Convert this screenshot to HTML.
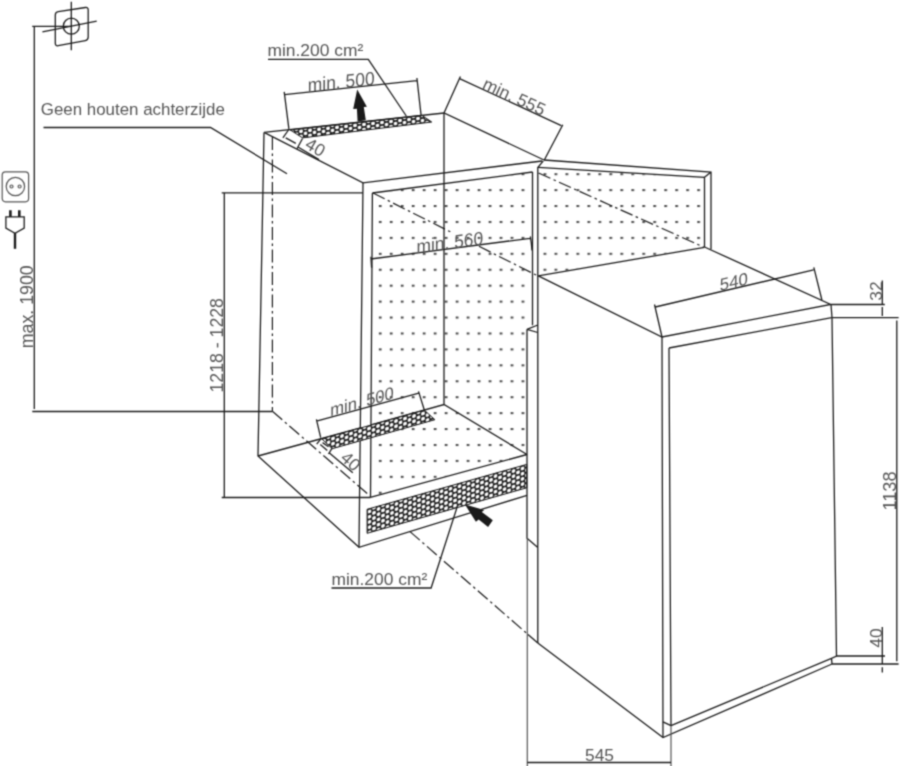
<!DOCTYPE html>
<html><head><meta charset="utf-8">
<style>
html,body{margin:0;padding:0;background:#fff;}
body{width:900px;height:766px;overflow:hidden;}
svg{display:block;filter:url(#bl);}
text{font-family:"Liberation Sans",sans-serif;font-size:17.4px;fill:#565656;}
.l{stroke:#1c1c1c;stroke-width:1.3;fill:none;stroke-linecap:butt;}
.g{stroke:#555;stroke-width:1.2;fill:none;}
.dd{stroke:#1c1c1c;stroke-width:1.2;fill:none;stroke-dasharray:13 3.5 2.5 3.5;}
</style></head><body>
<svg width="900" height="766" viewBox="0 0 900 766">
<defs><filter id="bl" x="0" y="0" width="900" height="766" filterUnits="userSpaceOnUse" color-interpolation-filters="sRGB"><feConvolveMatrix order="3" kernelMatrix="0.0400 0.1200 0.0400 0.1200 0.3600 0.1200 0.0400 0.1200 0.0400" divisor="1" edgeMode="duplicate" preserveAlpha="true"/></filter>
<pattern id="dots" patternUnits="userSpaceOnUse" x="378.85" y="173.15" width="10.98" height="15.93">
<rect x="0" y="0" width="2.7" height="2.1" fill="#4a4a4a"/>
</pattern>
<pattern id="hexA" patternUnits="userSpaceOnUse" width="9" height="5.2" patternTransform="translate(292,132.2) skewY(-6.2)">
<rect width="9" height="5.2" fill="#111"/>
<circle cx="0" cy="0" r="1.95" fill="#fff"/><circle cx="9" cy="0" r="1.95" fill="#fff"/>
<circle cx="0" cy="5.2" r="1.95" fill="#fff"/><circle cx="9" cy="5.2" r="1.95" fill="#fff"/>
<circle cx="4.5" cy="2.6" r="1.95" fill="#fff"/>
</pattern>
<pattern id="hexB" patternUnits="userSpaceOnUse" width="9" height="5.2" patternTransform="translate(324,441) skewY(-15.5)">
<rect width="9" height="5.2" fill="#111"/>
<circle cx="0" cy="0" r="1.95" fill="#fff"/><circle cx="9" cy="0" r="1.95" fill="#fff"/>
<circle cx="0" cy="5.2" r="1.95" fill="#fff"/><circle cx="9" cy="5.2" r="1.95" fill="#fff"/>
<circle cx="4.5" cy="2.6" r="1.95" fill="#fff"/>
</pattern>
<pattern id="hexC" patternUnits="userSpaceOnUse" width="9" height="5.2" patternTransform="translate(369.5,511.5) skewY(-15.7)">
<rect width="9" height="5.2" fill="#111"/>
<circle cx="0" cy="0" r="1.95" fill="#fff"/><circle cx="9" cy="0" r="1.95" fill="#fff"/>
<circle cx="0" cy="5.2" r="1.95" fill="#fff"/><circle cx="9" cy="5.2" r="1.95" fill="#fff"/>
<circle cx="4.5" cy="2.6" r="1.95" fill="#fff"/>
</pattern>
</defs>
<rect width="900" height="766" fill="#fff"/>

<!-- dotted areas -->
<polygon points="373,193 532.5,172.5 532.5,325 527,329 527,454.5 371,497" fill="url(#dots)"/>
<polygon points="538.5,168 704,178 704,247 538.5,275.5" fill="url(#dots)"/>

<!-- LEFT: max 1900 line + symbol -->
<g id="sym">
<path class="l" d="M32.2 26.4H71 M34.3 26.4V409 M32.3 411.5H272.4"/>
<path class="l" d="M58.3 11.6 L85.4 7.5 Q88.2 7.1 88.2 10 L88.2 37 Q88.2 40 85.3 40.6 L58.2 45.7 Q55.3 46.2 55.3 43.3 L55.3 15 Q55.3 12 58.3 11.6Z"/>
<circle class="l" cx="71.3" cy="26.2" r="8"/>
<path class="l" d="M71.3 1.8V50.2 M42.4 31.8L96.7 21.1"/>
</g>
<text transform="translate(33.3,306.8) rotate(-90)" text-anchor="middle" style="font-size:17.8px">max. 1900</text>

<!-- socket + plug -->
<g id="socket">
<rect class="g" x="2.2" y="171.8" width="26.4" height="30" rx="3.2" ry="3.2" stroke-width="1.5"/>
<circle class="g" cx="15.4" cy="186.5" r="9.2" stroke-width="1.5"/>
<circle class="g" cx="11.5" cy="186.5" r="1.5" stroke-width="1"/>
<circle class="g" cx="19.6" cy="186.5" r="1.5" stroke-width="1"/>
<path d="M10.4 210.3V217 M19.3 210.3V217" stroke="#1c1c1c" stroke-width="2.6" fill="none"/>
<path d="M5.9 216.8H24.2V228L15 233.2L5.9 228Z" class="l" stroke-width="1.4"/>
<path d="M15 233V248.8" stroke="#1c1c1c" stroke-width="2.4" fill="none"/>
</g>

<!-- Geen houten achterzijde -->
<text x="40.8" y="114.7" style="font-size:16.9px">Geen houten achterzijde</text>
<path class="l" d="M43.5 127.5H210.5L287 173.7"/>

<!-- min.200 cm2 top -->
<text x="267.5" y="56.3">min.200 cm²</text>
<path class="l" d="M268 59.3H368.3L406.3 116"/>

<!-- top vent -->
<polygon points="290,129.8 422,115.4 431.7,122 302.6,137.9" fill="url(#hexA)" stroke="#1a1a1a" stroke-width="1"/>
<!-- min 500 top -->
<path class="l" d="M284.2 91.9L288.9 128.8 M416.9 78L421.1 115.4 M284.6 94.6L416.9 80.6"/>
<text transform="matrix(1.0000,-0.1050,0,1.09,341.2,88.3)" text-anchor="middle">min. 500</text>
<polygon points="357.2,89.6 353.2,109 356.9,108.7 357.6,121.6 365.8,120.3 363.8,107 366.9,106.8" fill="#1a1a1a"/>
<!-- 40 top -->
<path class="l" d="M288.8 129.5L282.9 137.9 M302.5 138.5L297 148.7 M285.7 137.9L295.8 143.4 M298 147L319 159.6"/>
<text transform="translate(304,147.6) rotate(30)" x="0" y="0">40</text>

<!-- min 555 -->
<path class="l" d="M444 113L460.4 76.6 M544.3 160L562.8 124.8 M460.1 78.8L561.3 125.7"/>
<text transform="translate(481.4,87.9) rotate(24.9)">min. 555</text>

<!-- cabinet -->
<path class="l" d="M264 132.4L444 113L544 160 M264 132.4L363 182.8L542 161"/>
<path class="l" d="M372.4 193L532.5 172"/>
<path class="l" d="M264 132.4L258 456L359 547.3L527 495.3"/>
<path class="l" d="M363 182.8L359 547.3 M372.4 193L370.5 497.3"/>
<path class="l" d="M444 113V404.5 M258 456L360.3 428 M371 425L444 404.5L527 454.5 M370.3 497.3L527 454.5"/>
<!-- cabinet right stile -->
<path class="l" d="M532.5 172V325.3 M543.3 160.8L537.8 167.5V643 M527 329.3L537.8 325 M527 329.3L537.8 332.5 M527 329.3V538.3L537.8 547.5"/>
<path class="g" d="M527.3 538.3V766" stroke="#666"/>
<!-- dash-dot -->
<path class="dd" d="M272.4 137V411.3"/>
<path class="dd" d="M272.4 411.3L370 496" stroke-dasharray="10.5 3.8 1.7 3.8"/>
<path class="dd" d="M410 531.6L528 634.5" stroke-dasharray="10.5 3.8 1.7 3.8"/>
<path class="dd" d="M373 193L451.5 232.4"/><path class="dd" d="M479 246.3L538 276" stroke-dasharray="8 3.5 2.5 3.5 13 3.5 2.5 3.5"/>
<path class="dd" d="M538.5 173L703.5 247"/>

<!-- right wall -->
<path class="l" d="M544 160L711 172V249.3 M538 167.3L704.5 177.3V247 M704.5 177.3L711 172"/>
<path class="l" d="M538.3 275.8L704.5 247.3"/>

<!-- floor vent -->
<polygon points="321.7,438.8 424.4,410.2 434.9,419.7 332.3,448.7" fill="url(#hexB)" stroke="#1a1a1a" stroke-width="1"/>
<path class="l" d="M316.4 419.3L320.7 437.7 M418.5 391.4L424.4 410.2 M316.5 421.2L418.8 393.2"/>
<text transform="matrix(0.9550,-0.2666,0,1,362,407.4)" text-anchor="middle">min. 500</text>
<path class="l" d="M321 438.7L316.7 444.2 M332.4 447.7L328.5 454 M320.3 444.6L327.3 450.4 M322.6 442.6L328.5 446.7 M329.7 453.2L352.8 472.8"/>
<text transform="translate(339.6,459.3) rotate(42)" x="0" y="0">40</text>

<!-- front vent -->
<polygon points="367.1,509.3 526.7,464.4 526.7,487.8 367.1,533.3" fill="url(#hexC)" stroke="#1a1a1a" stroke-width="1"/>
<polygon points="465,504.6 484.2,510.1 481.8,512 492.8,520.2 488.1,526.9 478.7,519.5 475.9,521.8" fill="#1a1a1a"/>
<text x="331.5" y="585.3">min.200 cm²</text>
<path class="l" d="M331.5 588H431.1L457.3 506.5"/>

<!-- min 560 -->
<path class="l" d="M370.7 259L530 238.3 M370.9 256.8L371.6 267.8 M530.3 236.5Q531.5 242.5 532 250.5"/>
<text transform="matrix(1.0000,-0.1299,0,1.08,449.8,248.9)" text-anchor="middle">min. 560</text>

<!-- 1218-1228 -->
<path class="l" d="M221.7 192.8H363 M224.3 193V497.5 M221.7 497.5H370.5"/>
<text transform="translate(223.2,345.3) rotate(-90)" text-anchor="middle" style="font-size:17.7px">1218 - 1228</text>

<!-- appliance -->
<path class="l" d="M538.3 275.8L662 337L830.7 304.5L704.5 247"/>
<path class="l" d="M662 337L663 737.6 M669 348L671 725.7 M669 348L831.7 317.7"/>
<path class="l" d="M831 304.5L832 317.7L836.5 656L831.5 658.3L832 664"/>
<path class="l" d="M537.8 643L663 737.6L832 664 M671 725.7L831.5 658.3 M663 721.8L671 725.7"/>
<path class="l" d="M528 634.5L537.8 643"/>

<!-- 540 -->
<path class="l" d="M654.5 304.5L662 337 M813.8 267.3L821.9 300 M655.3 307L813.6 269.9"/>
<text transform="matrix(0.9650,-0.2263,0,1,733.8,287.7)" text-anchor="middle">540</text>

<!-- right dims -->
<path class="l" d="M830.7 304.5H884.8 M831.7 317.7H898.6 M882.3 280.5V304.5 M882.3 307V316 M896.8 320.5V661.2 M836.5 656H885 M832 664H898.6 M882.3 627V664 M882.3 667.3V672.5"/>
<text transform="translate(881.5,291) rotate(-90)" text-anchor="middle">32</text>
<text transform="translate(896,491) rotate(-90)" text-anchor="middle" style="font-size:18.2px">1138</text>
<text transform="translate(881.5,638) rotate(-90)" text-anchor="middle">40</text>

<!-- 545 -->
<path class="g" d="M671 725.7V766" stroke="#444"/>
<path class="l" d="M527.3 762.5H671"/>
<text x="599.5" y="761.2" text-anchor="middle">545</text>
</svg>
</body></html>
